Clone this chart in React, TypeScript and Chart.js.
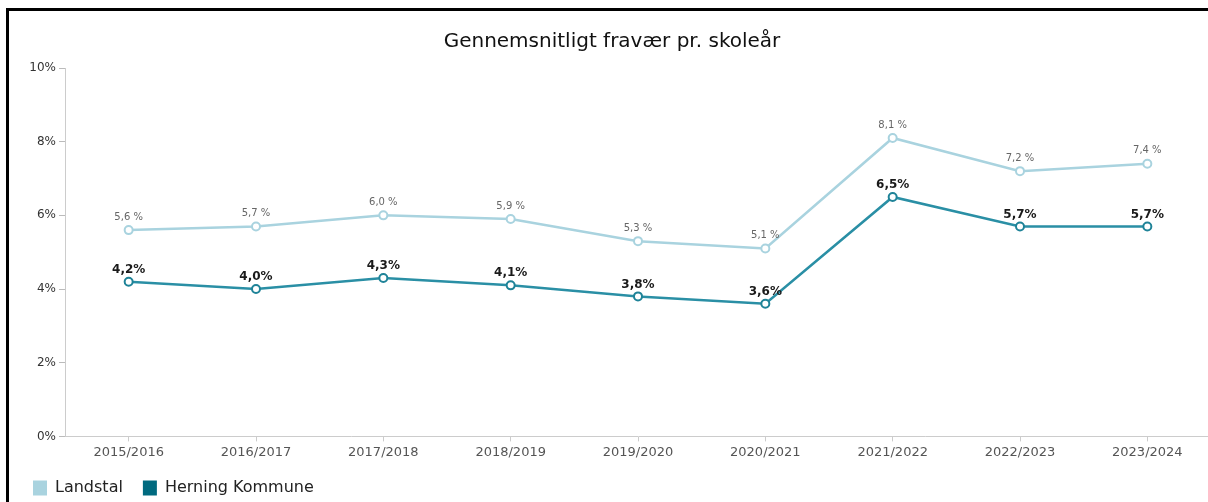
import React, { useEffect, useRef } from "react";
import { Chart, registerables } from "chart.js";

Chart.register(...registerables);

const categories = [
  "2015/2016",
  "2016/2017",
  "2017/2018",
  "2018/2019",
  "2019/2020",
  "2020/2021",
  "2021/2022",
  "2022/2023",
  "2023/2024",
];
const landstal = [5.6, 5.7, 6.0, 5.9, 5.3, 5.1, 8.1, 7.2, 7.4];
const herning = [4.2, 4.0, 4.3, 4.1, 3.8, 3.6, 6.5, 5.7, 5.7];
const yTicks = [0, 2, 4, 6, 8, 10];

const FONT = "'DejaVu Sans', Verdana, sans-serif";

const fmt = (v: number) => v.toFixed(1).replace(".", ",");

const labelPlugin = {
  id: "pointLabels",
  afterDatasetsDraw(chart: any) {
    const ctx = chart.ctx;
    ctx.save();
    ctx.textAlign = "center";
    ctx.textBaseline = "middle";
    chart.data.datasets.forEach((ds: any, di: number) => {
      const meta = chart.getDatasetMeta(di);
      meta.data.forEach((pt: any, i: number) => {
        const v = ds.data[i] as number;
        if (di === 0) {
          ctx.font = `10px ${FONT}`;
          ctx.fillStyle = "#666666";
          ctx.fillText(fmt(v) + " %", pt.x, pt.y - 13);
        } else {
          ctx.font = `bold 12px ${FONT}`;
          ctx.fillStyle = "#1a1a1a";
          ctx.fillText(fmt(v) + "%", pt.x, pt.y - 12);
        }
      });
    });
    ctx.restore();
  },
};

export default function App() {
  const ref = useRef<HTMLCanvasElement | null>(null);

  useEffect(() => {
    if (!ref.current) return;
    const chart = new Chart(ref.current, {
      type: "line",
      data: {
        labels: categories,
        datasets: [
          {
            label: "Landstal",
            data: landstal,
            borderColor: "#a9d3df",
            backgroundColor: "#a9d3df",
            pointBackgroundColor: "#ffffff",
            pointBorderColor: "#a9d3df",
            pointRadius: 4,
            pointBorderWidth: 2,
            borderWidth: 2.5,
            tension: 0,
          },
          {
            label: "Herning Kommune",
            data: herning,
            borderColor: "#2a8fa5",
            backgroundColor: "#006a7f",
            pointBackgroundColor: "#ffffff",
            pointBorderColor: "#1f8398",
            pointRadius: 4,
            pointBorderWidth: 2,
            borderWidth: 2.5,
            tension: 0,
          },
        ],
      },
      options: {
        responsive: false,
        animation: false,
        layout: { padding: { left: 13, right: 9, top: 10, bottom: -4 } },
        plugins: {
          title: {
            display: true,
            text: "Gennemsnitligt fravær pr. skoleår",
            color: "#111111",
            font: { family: FONT, size: 20, weight: "normal" },
            padding: { top: 20, bottom: 14 },
          },
          legend: {
            position: "bottom",
            align: "start",
            labels: {
              boxWidth: 14,
              boxHeight: 15,
              padding: 20,
              color: "#222222",
              font: { family: FONT, size: 16 },
              generateLabels: (c: any) =>
                c.data.datasets.map((ds: any, i: number) => ({
                  text: ds.label,
                  fillStyle: ds.backgroundColor,
                  strokeStyle: ds.backgroundColor,
                  lineWidth: 0,
                  datasetIndex: i,
                  hidden: false,
                  fontColor: "#222222",
                })),
            },
          },
          tooltip: { enabled: false },
        },
        scales: {
          x: {
            offset: true,
            afterFit: (s: any) => {
              s.height = s.height - 3;
            },
            grid: {
              offset: false,
              drawOnChartArea: false,
              color: "#cccccc",
              tickLength: 5,
            },
            border: { color: "#cccccc", width: 1 },
            ticks: {
              color: "#555555",
              font: { family: FONT, size: 13 },
              padding: 3,
              maxRotation: 0,
            },
          },
          y: {
            min: 0,
            max: 10,
            afterFit: (s: any) => {
              s.width = 52;
            },
            afterBuildTicks: (s: any) => {
              s.ticks = yTicks.map((v) => ({ value: v }));
            },
            grid: {
              drawOnChartArea: false,
              color: "#bbbbbb",
              tickLength: 6,
            },
            border: { color: "#cccccc", width: 1 },
            ticks: {
              color: "#333333",
              font: { family: FONT, size: 12 },
              padding: 3,
              callback: (v: any) => `${v}%`,
            },
          },
        },
      },
      plugins: [labelPlugin],
    });
    return () => chart.destroy();
  }, []);

  return (
    <div
      style={{
        position: "fixed",
        left: 0,
        top: 0,
        width: 1208,
        height: 502,
        overflow: "hidden",
        background: "#ffffff",
      }}
    >
      <canvas
        ref={ref}
        width={1220}
        height={502}
        style={{ position: "absolute", left: 0, top: 0, width: 1220, height: 502 }}
      />
      <div
        style={{
          position: "absolute",
          left: 6,
          top: 8,
          width: 1400,
          height: 800,
          borderLeft: "3px solid #000",
          borderTop: "3px solid #000",
          pointerEvents: "none",
        }}
      />
    </div>
  );
}
